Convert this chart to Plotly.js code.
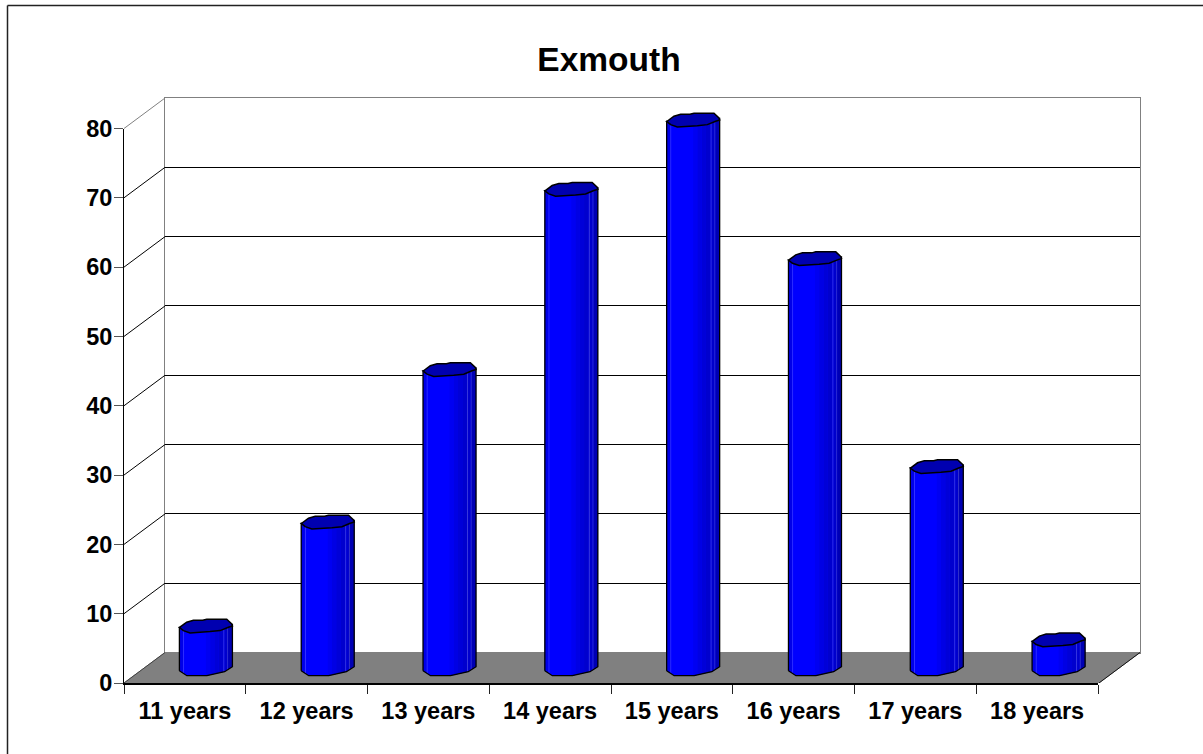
<!DOCTYPE html>
<html>
<head>
<meta charset="utf-8">
<script src="https://cdn.plot.ly/plotly-3.0.1.min.js"></script>
<style>html,body{margin:0;padding:0;background:#fff;overflow:hidden}</style>
</head>
<body>
<div id="chart" style="width:1203px;height:754px"></div>
<script>
const chartTitle = 'Exmouth';
const categories = ['11 years','12 years','13 years','14 years','15 years','16 years','17 years','18 years'];
const values = [6, 21, 43, 69, 79, 59, 29, 4];
const yTicks = [0, 10, 20, 30, 40, 50, 60, 70, 80];

// chart geometry in page pixels
const W = 1203, H = 754;
const front = {l:124, r:1098, b:683, t:128.5};
const back  = {l:165, r:1140, b:652.5, t:98};
const xr = [-0.5, categories.length - 0.5], yr = [0, 80];
const pxX = (front.r - front.l) / (xr[1] - xr[0]);   // px per category
const pxY = (front.b - front.t) / (yr[1] - yr[0]);   // px per value unit
const depthX = (back.l - front.l) / pxX, depthY = (front.b - back.b) / pxY;
const domX = a => [a.l / W, a.r / W];
const domY = a => [(H - a.b) / H, (H - a.t) / H];

// Side walls + floor span: same scale as the front axes, extended by the depth
const geomXr = [xr[0], xr[1] + depthX], geomYr = [yr[0], yr[1] + depthY];
const geom = {l:front.l, r:back.r, b:front.b, t:back.t};
// Bars stand at mid depth; range padded so that the curved base stays in view
const barYr = [-3, 83];
const barBase = {l:145, r:1119.5, b:667.5};
const bars = {l:barBase.l, r:barBase.r, b:barBase.b - barYr[0]*pxY, t:barBase.b - barYr[1]*pxY};

// cylinder cross-section outlines, in px around the bar axis
const topOutline = [[-26,-1.3],[-19.2,3.7],[-12.5,5.7],[-3.2,5.7],[0.8,6.7],[20.8,6.7],[25.8,2],
  [26.5,0],[22.5,-1.3],[14.2,-4.7],[4.2,-5.7],[-5.8,-6],[-15.8,-7],[-22.5,-4.7],[-26.5,-1.5]];
const topFront = [[-26.5,-1.5],[-22.5,-4.7],[-15.8,-7],[-5.8,-6],[4.2,-5.7],[14.2,-4.7],[22.5,-1.3],[26.5,1.5]];
const baseFront = [[-26.5,-3.2],[-19,-8.2],[1,-8.2],[8.7,-6.5],[18.7,-4.2],[26.5,0.8]];
const interp = (tbl, u) => {
  for (let i = 1; i < tbl.length; i++) {
    if (u <= tbl[i][0]) {
      const a = tbl[i-1], b = tbl[i];
      return a[1] + (b[1]-a[1]) * (u-a[0]) / (b[0]-a[0]);
    }
  }
  return tbl[tbl.length-1][1];
};

// shaded vertical bands of the cylinder: [from, to, colour], fractions of the width
const bands = [
  [0.00,0.07,'#0000E8'],[0.07,0.09,'#3030FF'],[0.09,0.50,'#0000FF'],[0.50,0.58,'#0000F2'],
  [0.58,0.66,'#0000E4'],[0.66,0.74,'#0000D8'],[0.74,0.83,'#0000CE'],[0.83,0.85,'#3838DC'],
  [0.85,0.90,'#0000CC'],[0.90,0.92,'#3030C8'],[0.92,1.00,'#0000B4']
];

const common = {hoverinfo:'skip', showlegend:false};
const sel = a => ({xaxis:'x'+a, yaxis:'y'+a});
const traces = [];

// carriers so that the front axes and the back wall are drawn
traces.push({...common, type:'scatter', mode:'none', x:[0], y:[0]});
traces.push({...common, ...sel(2), type:'scatter', mode:'none', x:[0], y:[0]});

// floor
traces.push({...common, ...sel(3), type:'scatter', mode:'lines', x:[xr[0],xr[1],xr[1]+depthX,xr[0]+depthX,xr[0]],
  y:[0,0,depthY,depthY,0], fill:'toself', fillcolor:'#808080', line:{color:'#808080',width:1}});
traces.push({...common, ...sel(3), type:'scatter', mode:'lines', x:[xr[1],xr[1]+depthX], y:[0,depthY], line:{color:'#111',width:1}});
traces.push({...common, ...sel(3), type:'scatter', mode:'lines', x:[xr[0],xr[0]+depthX], y:[0,depthY], line:{color:'#404040',width:1}});
// side-wall diagonals from the front axis to the back wall
yTicks.slice(1).forEach(v => traces.push({...common, ...sel(3), type:'scatter', mode:'lines',
  x:[xr[0],xr[0]+depthX], y:[v,v+depthY], line:{color: v===80?'#808080':'#000', width:1}}));

const cx = i => i;
const toX = px => px / pxX, toY = px => px / pxY;

// data bars (body)
traces.push({...common, ...sel(4), type:'bar', x:values.map((_,i)=>i), y:values, width:48/pxX,
  marker:{color:'#0000FF',line:{width:0}}});

// silhouette fill
function polys(fn){ const X=[],Y=[]; values.forEach((v,i)=>{ fn(v,i).forEach(p=>{X.push(p[0]);Y.push(p[1]);}); X.push(null);Y.push(null); }); return {x:X,y:Y}; }
const silhouette = (v,i) => {
  const pts = [];
  baseFront.forEach(p => pts.push([cx(i)+toX(p[0]), toY(p[1])]));
  pts.push([cx(i)+toX(26.5), v+toY(1.5)]);
  pts.push([cx(i)+toX(-26.5), v+toY(-1.5)]);
  pts.push(pts[0]);
  return pts;
};
traces.push({...common, ...sel(4), type:'scatter', mode:'lines', ...polys(silhouette), fill:'toself', fillcolor:'#0000FF', line:{width:0,color:'#0000FF'}});

// shading bands
bands.forEach(b => {
  const a0 = -26.5 + 53*b[0], a1 = -26.5 + 53*b[1];
  traces.push({...common, ...sel(4), type:'scatter', mode:'lines', fill:'toself', fillcolor:b[2], line:{width:0,color:b[2]},
    ...polys((v,i) => [
      [cx(i)+toX(a0), toY(interp(baseFront,a0))],
      [cx(i)+toX(a1), toY(interp(baseFront,a1))],
      [cx(i)+toX(a1), v+toY(interp(topFront,a1))],
      [cx(i)+toX(a0), v+toY(interp(topFront,a0))],
      [cx(i)+toX(a0), toY(interp(baseFront,a0))]
    ])});
});

// silhouette outline
traces.push({...common, ...sel(4), type:'scatter', mode:'lines', ...polys(silhouette), line:{color:'#000',width:1.3}});
// top cap
traces.push({...common, ...sel(4), type:'scatter', mode:'lines', fill:'toself', fillcolor:'#0000B0', line:{color:'#000',width:1.5},
  ...polys((v,i) => topOutline.concat([topOutline[0]]).map(p => [cx(i)+toX(p[0]), v+toY(p[1])]))});

const tickFont = {family:'"Liberation Sans", Arial, sans-serif', size:23.5, color:'#000', weight:700};
const hidden = {showgrid:false, zeroline:false, showticklabels:false, ticks:'', showline:false, fixedrange:true};

const layout = {
  width:W, height:H, margin:{l:0,r:0,t:0,b:0,pad:0}, paper_bgcolor:'#fff', plot_bgcolor:'rgba(0,0,0,0)',
  showlegend:false, hovermode:false, barmode:'overlay',
  title:{text:chartTitle, x:609/W, xanchor:'center', y:1-59/H, yanchor:'middle',
    font:{family:'"Liberation Sans", Arial, sans-serif', size:33.5, color:'#000', weight:700}},
  xaxis:{domain:domX(front), anchor:'y', range:xr, type:'linear', tickmode:'array', tickvals:categories.map((_,i)=>i), ticktext:categories,
    ticks:'', ticklabelstandoff:6, tickfont:tickFont, showgrid:false, zeroline:false, showline:true, linecolor:'#000', linewidth:2,
    minor:{tickmode:'array', tickvals:categories.map((_,i)=>i-0.5).concat([categories.length-0.5]), ticks:'outside', ticklen:9, tickcolor:'#222', tickwidth:1, showgrid:false}},
  yaxis:{domain:domY(front), anchor:'x', range:yr, tickmode:'array', tickvals:yTicks, ticktext:yTicks.map(String),
    ticks:'outside', ticklen:9, tickcolor:'#555', tickwidth:1, tickfont:tickFont, ticklabelstandoff:-3,
    showgrid:false, zeroline:false, showline:true, linecolor:'#000', linewidth:1},
  xaxis2:{...hidden, domain:domX(back), anchor:'y2', range:xr, showline:true, mirror:true, linecolor:'#808080', linewidth:1},
  yaxis2:{...hidden, domain:domY(back), anchor:'x2', range:yr, showline:true, mirror:true, linecolor:'#808080', linewidth:1,
    showgrid:true, gridcolor:'#000', gridwidth:1, tickmode:'array', tickvals:yTicks.slice(1,-1)},
  xaxis3:{...hidden, domain:domX(geom), anchor:'y3', range:geomXr},
  yaxis3:{...hidden, domain:domY(geom), anchor:'x3', range:geomYr},
  xaxis4:{...hidden, domain:domX(bars), anchor:'y4', range:xr},
  yaxis4:{...hidden, domain:domY(bars), anchor:'x4', range:barYr},
  shapes:[
    {type:'line', xref:'paper', yref:'paper', x0:7.5/W, x1:1, y0:1-5.5/H, y1:1-5.5/H, line:{color:'#222',width:1.5}},
    {type:'line', xref:'paper', yref:'paper', x0:7.5/W, x1:7.5/W, y0:0, y1:1-5.5/H, line:{color:'#222',width:1.5}}
  ]
};
Plotly.newPlot('chart', traces, layout, {displayModeBar:false, staticPlot:true});
</script>
</body>
</html>
